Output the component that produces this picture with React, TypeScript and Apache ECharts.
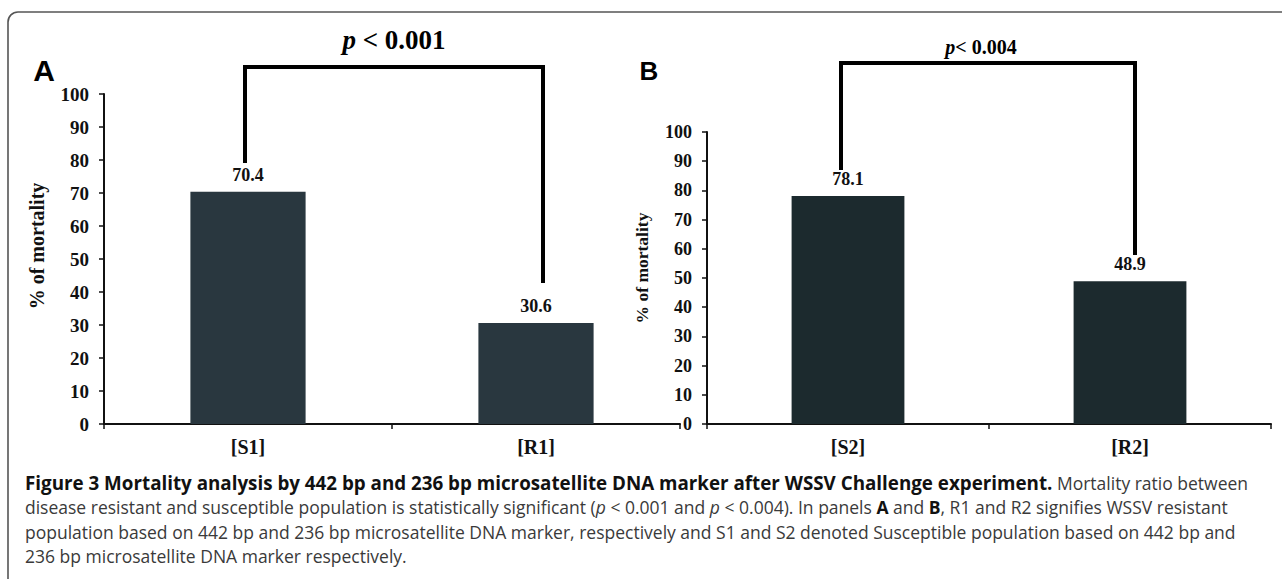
import React, { useEffect, useRef } from "react";
import * as echarts from "echarts";

const categoriesA = ["[S1]", "[R1]"];
const mortalityA = [70.4, 30.6];
const categoriesB = ["[S2]", "[R2]"];
const mortalityB = [78.1, 48.9];
const yMin = 0;
const yMax = 100;
const yInterval = 10;
// bracket levels in % units: [left leg end, crossbar, right leg end]
const bracketA = [79.1, 108.2, 42.7];
const bracketB = [87.0, 123.6, 57.9];
const pValueA = " < 0.001";
const pValueB = "< 0.004";
const yAxisTitle = "% of mortality";
const panelLetters = ["A", "B"];
const captionLines = [
  "{b|Figure 3 Mortality analysis by 442 bp and 236 bp microsatellite DNA marker after WSSV Challenge experiment.}{n| Mortality ratio between}",
  "{n|disease resistant and susceptible population is statistically significant (}{i|p}{n| < 0.001 and }{i|p}{n| < 0.004). In panels }{b2|A}{n| and }{b2|B}{n|, R1 and R2 signifies WSSV resistant}",
  "{n|population based on 442 bp and 236 bp microsatellite DNA marker, respectively and S1 and S2 denoted Susceptible population based on 442 bp and}",
  "{n|236 bp microsatellite DNA marker respectively.}",
];

const SERIF = "'Liberation Serif', 'Times New Roman', serif";
const SANS = "'Liberation Sans', Arial, sans-serif";
const CAP = "'Open Sans', 'Noto Sans', sans-serif";
const CAP_BOLD = 18.8;
const CAP_REG = 17.5;

function yAxisCfg(gridIndex: number, fs: number) {
  return {
    type: "value",
    gridIndex,
    min: yMin,
    max: yMax,
    interval: yInterval,
    axisLine: { show: true, lineStyle: { color: "#111", width: 2 } },
    axisTick: { show: true, length: 5, lineStyle: { color: "#111", width: 1.5 } },
    axisLabel: { color: "#111", fontFamily: SERIF, fontWeight: "bold", fontSize: fs, margin: 15 },
    splitLine: { show: false },
  };
}

function xAxisCfg(gridIndex: number, cats: string[]) {
  return {
    type: "category",
    gridIndex,
    data: cats,
    axisLine: { show: true, lineStyle: { color: "#111", width: 2 } },
    axisTick: { show: true, length: 5, lineStyle: { color: "#111", width: 1.5 } },
    axisLabel: { color: "#111", fontFamily: SERIF, fontWeight: "bold", fontSize: 20, margin: 13 },
  };
}

function barSeries(idx: number, data: number[], color: string) {
  return {
    type: "bar",
    xAxisIndex: idx,
    yAxisIndex: idx,
    data,
    barWidth: "40%",
    itemStyle: { color },
    label: {
      show: true,
      position: "top",
      distance: 8,
      color: "#111",
      fontFamily: SERIF,
      fontWeight: "bold",
      fontSize: 18,
    },
  };
}

export default function App() {
  const ref = useRef<HTMLDivElement>(null);
  useEffect(() => {
    if (!ref.current) return;
    const chart = echarts.init(ref.current, null, { renderer: "svg" });
    chart.setOption({
      animation: false,
      backgroundColor: "#fff",
      grid: [
        { left: 104, top: 94, width: 576, height: 330 },
        { left: 707, top: 132, width: 564, height: 292 },
      ],
      xAxis: [xAxisCfg(0, categoriesA), xAxisCfg(1, categoriesB)],
      yAxis: [yAxisCfg(0, 19), yAxisCfg(1, 18)],
      series: [barSeries(0, mortalityA, "#29373f"), barSeries(1, mortalityB, "#1c2a2e")],
    });

    const bracket = (gi: number, cats: string[], lv: number[], dl: number, dr: number) => {
      const pL0 = chart.convertToPixel({ gridIndex: gi }, [cats[0], lv[0]]) as number[];
      const pT = chart.convertToPixel({ gridIndex: gi }, [cats[0], lv[1]]) as number[];
      const pR0 = chart.convertToPixel({ gridIndex: gi }, [cats[1], lv[2]]) as number[];
      const xl = pL0[0] + dl;
      const xr = pR0[0] + dr;
      return { xl, xr, yt: pT[1], yl: pL0[1], yr: pR0[1] };
    };
    const bA = bracket(0, categoriesA, bracketA, -3, 7);
    const bB = bracket(1, categoriesB, bracketB, -7, 5);

    const bracketEl = (b: any) => ({
      type: "polyline",
      shape: { points: [[b.xl, b.yl], [b.xl, b.yt - 2], [b.xl, b.yt], [b.xr, b.yt], [b.xr, b.yr]] },
      style: { stroke: "#000", lineWidth: 4, fill: null },
    });

    const graphics: any[] = [
      {
        type: "rect",
        shape: { x: 8, y: 12, width: 1300, height: 600, r: [10, 0, 0, 0] },
        style: { fill: null, stroke: "#555", lineWidth: 1.6 },
      },
      bracketEl(bA),
      bracketEl(bB),
      {
        type: "text",
        x: (bA.xl + bA.xr) / 2,
        y: bA.yt - 27,
        style: {
          text: "{i|p}{t|" + pValueA + "}",
          align: "center",
          verticalAlign: "middle",
          rich: {
            i: { fontFamily: SERIF, fontStyle: "italic", fontWeight: "bold", fontSize: 27, fill: "#000" },
            t: { fontFamily: SERIF, fontWeight: "bold", fontSize: 27, fill: "#000" },
          },
        },
      },
      {
        type: "text",
        x: (bB.xl + bB.xr) / 2 - 7,
        y: bB.yt - 16,
        style: {
          text: "{i|p}{t|" + pValueB + "}",
          align: "center",
          verticalAlign: "middle",
          rich: {
            i: { fontFamily: SERIF, fontStyle: "italic", fontWeight: "bold", fontSize: 20, fill: "#000" },
            t: { fontFamily: SERIF, fontWeight: "bold", fontSize: 20, fill: "#000" },
          },
        },
      },
      {
        type: "text",
        x: 44,
        y: 70,
        style: { text: panelLetters[0], font: `bold 30px ${SANS}`, fill: "#000", align: "center", verticalAlign: "middle" },
      },
      {
        type: "text",
        x: 649,
        y: 71,
        style: { text: panelLetters[1], font: `bold 26px ${SANS}`, fill: "#000", align: "center", verticalAlign: "middle" },
      },
      {
        type: "text",
        x: 37,
        y: 246,
        rotation: Math.PI / 2,
        style: { text: yAxisTitle, font: `bold 20px ${SERIF}`, fill: "#111", align: "center", verticalAlign: "middle" },
      },
      {
        type: "text",
        x: 642,
        y: 268,
        rotation: Math.PI / 2,
        style: { text: yAxisTitle, font: `bold 17.5px ${SERIF}`, fill: "#111", align: "center", verticalAlign: "middle" },
      },
      ...captionLines.map((line, i) => ({
        type: "text",
        x: 25,
        y: 483 + i * 24.4,
        style: {
          text: line,
          align: "left",
          verticalAlign: "middle",
          rich: {
            b: { fontFamily: CAP, fontWeight: "bold", fontSize: CAP_BOLD, fill: "#111" },
            b2: { fontFamily: CAP, fontWeight: "bold", fontSize: CAP_REG, fill: "#111" },
            n: { fontFamily: CAP, fontSize: CAP_REG, fill: "#3a3a3a" },
            i: { fontFamily: CAP, fontStyle: "italic", fontSize: CAP_REG, fill: "#3a3a3a" },
          },
        },
      })),
    ];
    chart.setOption({ graphic: graphics });
    return () => chart.dispose();
  }, []);
  return (
    <div
      ref={ref}
      style={{ position: "fixed", left: 0, top: 0, width: 1282, height: 579, background: "#fff" }}
    />
  );
}
